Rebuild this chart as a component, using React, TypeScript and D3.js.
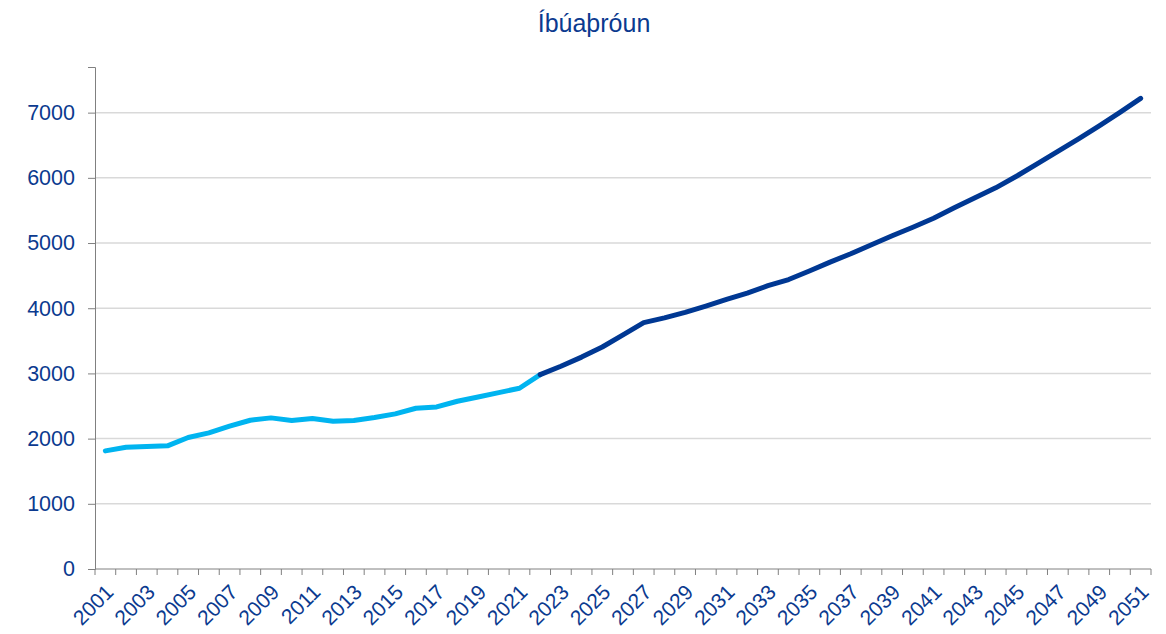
import { useEffect, useRef } from 'react';
import * as d3 from 'd3';

const years = d3.range(2001, 2052);

// íbúafjöldi 2001-2022 (rauntölur)
const actual = [
  1812, 1868, 1879, 1889, 2017, 2088, 2190, 2282, 2318, 2277, 2308,
  2267, 2277, 2323, 2379, 2466, 2486, 2573, 2639, 2706, 2772, 2982,
];

// spá 2022-2051
const forecast = [
  2982, 3110, 3250, 3405, 3590, 3780, 3852, 3936, 4033, 4135, 4232,
  4345, 4440, 4570, 4707, 4835, 4973, 5111, 5243, 5381, 5540, 5693,
  5846, 6024, 6214, 6407, 6597, 6796, 7004, 7219,
];

const yTicks = [0, 1000, 2000, 3000, 4000, 5000, 6000, 7000];

const textColor = '#0b3a8f';
const font = '"Liberation Sans", Arial, sans-serif';

function Chart() {
  const ref = useRef<SVGSVGElement>(null);

  useEffect(() => {
    const w = 1166;
    const h = 634;
    const m = { top: 67, right: 15, bottom: 65, left: 95 };

    const svg = d3.select(ref.current).attr('width', w).attr('height', h);
    svg.selectAll('*').remove();

    const x = d3
      .scaleBand<number>()
      .domain(years)
      .range([m.left, w - m.right])
      .padding(0);

    const y = d3
      .scaleLinear()
      .domain([0, 7700])
      .range([h - m.bottom, m.top]);

    const cx = (yr: number) => (x(yr) as number) + x.bandwidth() / 2;

    // gridlines
    svg
      .append('g')
      .selectAll('line')
      .data(yTicks.filter(d => d > 0))
      .join('line')
      .attr('x1', m.left)
      .attr('x2', w - m.right)
      .attr('y1', d => y(d))
      .attr('y2', d => y(d))
      .attr('stroke', '#d9d9d9')
      .attr('stroke-width', 1.5);

    // y axis
    const gy = svg
      .append('g')
      .attr('transform', `translate(${m.left},0)`)
      .call(
        d3
          .axisLeft(y)
          .tickValues(yTicks)
          .tickFormat(d3.format('d'))
          .tickSize(7)
          .tickPadding(13)
      );
    gy.select('.domain').attr('stroke', '#808080');
    gy.selectAll('.tick line').attr('stroke', '#808080');
    gy.selectAll('.tick text')
      .attr('fill', textColor)
      .attr('font-family', font)
      .attr('font-size', 21.5);

    // x axis
    const gx = svg.append('g').attr('transform', `translate(0,${y(0)})`);
    gx.append('line')
      .attr('x1', m.left)
      .attr('x2', w - m.right)
      .attr('stroke', '#808080');
    const bounds = years.map(d => x(d) as number).concat([w - m.right]);
    gx.selectAll('line.tk')
      .data(bounds)
      .join('line')
      .attr('class', 'tk')
      .attr('x1', d => d)
      .attr('x2', d => d)
      .attr('y1', 0)
      .attr('y2', 6)
      .attr('stroke', '#808080');
    gx.selectAll('text')
      .data(years.filter(d => d % 2 === 1))
      .join('text')
      .attr('transform', d => `translate(${cx(d) - 1},${14}) rotate(-45)`)
      .attr('text-anchor', 'end')
      .attr('dy', '0.7em')
      .attr('fill', textColor)
      .attr('font-family', font)
      .attr('font-size', 21)
      .text(d => d);

    const line = d3.line<number>().y(d => y(d));

    svg
      .append('path')
      .datum(actual)
      .attr('fill', 'none')
      .attr('stroke', '#00b4f0')
      .attr('stroke-width', 5)
      .attr('stroke-linejoin', 'round')
      .attr('stroke-linecap', 'round')
      .attr('d', line.x((_, i) => cx(years[i]))(actual));

    svg
      .append('path')
      .datum(forecast)
      .attr('fill', 'none')
      .attr('stroke', '#003893')
      .attr('stroke-width', 5)
      .attr('stroke-linejoin', 'round')
      .attr('stroke-linecap', 'round')
      .attr('d', line.x((_, i) => cx(years[i + actual.length - 1]))(forecast));

    svg
      .append('text')
      .attr('x', 594)
      .attr('y', 32)
      .attr('text-anchor', 'middle')
      .attr('fill', textColor)
      .attr('font-family', font)
      .attr('font-size', 25)
      .text('Íbúaþróun');

    return () => {
      svg.selectAll('*').remove();
    };
  }, []);

  return <svg ref={ref} role="img" aria-label="Íbúaþróun" style={{ display: 'block' }} />;
}

export default function App() {
  useEffect(() => {
    document.body.style.margin = '0';
  }, []);
  return <Chart />;
}
